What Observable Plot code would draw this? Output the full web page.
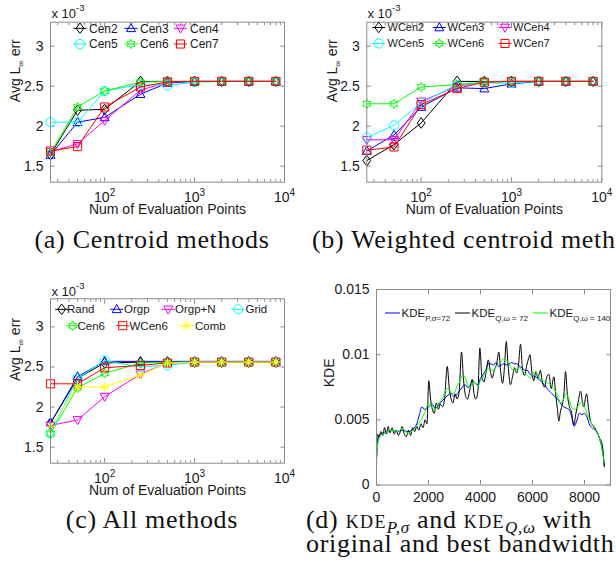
<!DOCTYPE html>
<html>
<head>
<meta charset="utf-8">
<script src="https://cdn.jsdelivr.net/npm/d3@7"></script>
<script src="https://cdn.jsdelivr.net/npm/@observablehq/plot@0.6"></script>
<style>
html, body { margin:0; padding:0; background:#fff; }
body { width:616px; height:564px; overflow:hidden; }
#fig { position:relative; width:616px; height:564px; overflow:hidden; }
.panel { position:absolute; }
.panel svg { overflow:visible; display:block; }
#overlay { position:absolute; left:0; top:0; overflow:hidden; pointer-events:none; }
</style>
</head>
<body>
<div id="fig"></div>
<script>
// ================= DATA =================
const evalPoints = [25, 50, 100, 250, 500, 1000, 2000, 4000, 8000];
// (a) centroid methods — Avg L∞ error, in units of 1e-3
const cen2 = [1.645, 2.20, 2.21, 2.56, 2.56, 2.56, 2.56, 2.56, 2.56];
const cen3 = [1.64, 2.05, 2.11, 2.40, 2.54, 2.56, 2.56, 2.56, 2.56];
const cen4 = [1.68, 1.78, 2.07, 2.45, 2.55, 2.56, 2.56, 2.56, 2.56];
const cen5 = [2.05, 2.05, 2.44, 2.52, 2.51, 2.55, 2.56, 2.56, 2.56];
const cen6 = [1.67, 2.24, 2.44, 2.55, 2.56, 2.56, 2.56, 2.56, 2.56];
const cen7 = [1.69, 1.745, 2.24, 2.49, 2.555, 2.56, 2.56, 2.56, 2.56];
// (b) weighted centroid methods
const wcen2 = [1.57, 1.77, 2.04, 2.56, 2.56, 2.56, 2.56, 2.56, 2.56];
const wcen3 = [1.69, 1.89, 2.24, 2.48, 2.47, 2.53, 2.56, 2.56, 2.56];
const wcen4 = [1.83, 1.83, 2.31, 2.50, 2.55, 2.56, 2.56, 2.56, 2.56];
const wcen5 = [1.86, 2.01, 2.29, 2.52, 2.54, 2.54, 2.56, 2.56, 2.56];
const wcen6 = [2.28, 2.28, 2.49, 2.52, 2.55, 2.56, 2.56, 2.56, 2.56];
const wcen7 = [1.70, 1.74, 2.27, 2.47, 2.55, 2.56, 2.56, 2.56, 2.56];
// (c) all methods
const randM  = [1.80, 2.36, 2.55, 2.56, 2.56, 2.56, 2.56, 2.56, 2.56];
const orgp   = [1.80, 2.38, 2.57, 2.57, 2.57, 2.57, 2.57, 2.57, 2.57];
const orgpN  = [1.77, 1.84, 2.13, 2.41, 2.55, 2.56, 2.56, 2.56, 2.56];
const gridM  = [1.67, 2.36, 2.58, 2.50, 2.52, 2.56, 2.56, 2.56, 2.56];
const cen6c  = [1.67, 2.24, 2.42, 2.55, 2.56, 2.56, 2.56, 2.56, 2.56];
const wcen6c = [2.29, 2.29, 2.49, 2.52, 2.55, 2.56, 2.56, 2.56, 2.56];
const comb   = [1.76, 2.25, 2.25, 2.40, 2.55, 2.56, 2.56, 2.56, 2.56];

const namesA = ["Cen2", "Cen3", "Cen4", "Cen5", "Cen6", "Cen7"];
const namesB = ["WCen2", "WCen3", "WCen4", "WCen5", "WCen6", "WCen7"];
const namesC = ["Rand", "Orgp", "Orgp+N", "Grid", "Cen6", "WCen6", "Comb"];

const xMajorTicks = [100, 1000, 10000];
const xMajorLabels = ["10^2", "10^3", "10^4"];
const xMinorTicks = [30,40,50,60,70,80,90,200,300,400,500,600,700,800,900,2000,3000,4000,5000,6000,7000,8000,9000];
const yErrTicks = [1.5, 2, 2.5, 3];
const yErrLabels = ["1.5", "2", "2.5", "3"];

// (d) KDE curves
const kdeP_x = [0,60,150,250,400,600,800,1000,1200,1400,1550,1650,1750,1850,1950,2050,2150,2250,2350,2450,2600,2750,2850,3000,3150,3300,3400,3500,3600,3700,3800,3900,4000,4100,4200,4300,4400,4500,4600,4700,4800,4900,5000,5100,5200,5300,5400,5500,5600,5700,5800,5900,6000,6100,6200,6300,6400,6500,6600,6700,6800,6900,7000,7100,7200,7300,7400,7500,7600,7700,7800,7900,8000,8100,8200,8300,8400,8500,8600,8700,8760];
const kdeP_y = [0.0020,0.0035,0.0039,0.0040,0.0041,0.0042,0.0041,0.0042,0.0041,0.0043,0.0047,0.0054,0.0060,0.0058,0.0059,0.0061,0.0062,0.0059,0.0060,0.0063,0.0066,0.0069,0.0070,0.0068,0.0071,0.0075,0.0077,0.0075,0.0076,0.0080,0.0078,0.0077,0.0082,0.0085,0.0088,0.0093,0.0093,0.0092,0.0094,0.0091,0.0092,0.0093,0.0092,0.0093,0.0094,0.0093,0.0093,0.0091,0.0090,0.0088,0.0088,0.0085,0.0084,0.0083,0.0082,0.0080,0.0078,0.0076,0.0073,0.0071,0.0069,0.0067,0.0065,0.0062,0.0060,0.0059,0.0058,0.0053,0.0045,0.0049,0.0055,0.0054,0.0055,0.0052,0.0046,0.0044,0.0042,0.0040,0.0034,0.0026,0.0015];

const kdeQ72_x = [0,40,100,170,240,310,380,450,520,600,680,760,840,920,990,1070,1150,1230,1310,1390,1470,1550,1630,1710,1790,1870,1940,2010,2080,2150,2220,2300,2380,2460,2540,2620,2720,2800,2870,2940,3020,3100,3180,3270,3350,3430,3500,3580,3680,3750,3820,3900,3975,4050,4130,4210,4300,4380,4450,4530,4620,4705,4780,4850,4920,4990,5060,5150,5230,5310,5390,5460,5540,5620,5700,5780,5850,5900,5980,6050,6130,6210,6300,6380,6460,6550,6630,6720,6820,6900,6960,7010,7080,7150,7210,7270,7340,7420,7500,7590,7670,7750,7850,7920,7975,8030,8080,8160,8230,8310,8400,8490,8580,8680,8760];
const kdeQ72_y = [0.0019,0.0039,0.0037,0.0041,0.0038,0.0044,0.0039,0.0045,0.0040,0.0044,0.0039,0.0042,0.0038,0.0041,0.0045,0.0039,0.0037,0.0042,0.0038,0.0044,0.0041,0.0045,0.0042,0.0047,0.0044,0.0050,0.0047,0.0080,0.0066,0.0058,0.0055,0.0063,0.0058,0.0062,0.0060,0.0066,0.0091,0.0074,0.0066,0.0063,0.0070,0.0066,0.0072,0.0102,0.0080,0.0068,0.0066,0.0072,0.0081,0.0070,0.0066,0.0072,0.0105,0.0084,0.0079,0.0086,0.0096,0.0087,0.0082,0.0088,0.0093,0.0102,0.0086,0.0078,0.0090,0.0110,0.0092,0.0077,0.0083,0.0090,0.0086,0.0092,0.0108,0.0088,0.0084,0.0092,0.0097,0.0100,0.0086,0.0080,0.0087,0.0082,0.0088,0.0079,0.0075,0.0083,0.0085,0.0074,0.0083,0.0068,0.0058,0.0049,0.0057,0.0062,0.0070,0.0087,0.0070,0.0060,0.0056,0.0046,0.0055,0.0063,0.0072,0.0064,0.0060,0.0066,0.0070,0.0058,0.0049,0.0046,0.0044,0.0040,0.0036,0.0031,0.0014];

const kdeQ140_x = [0,60,150,250,400,600,800,1000,1200,1400,1600,1800,1900,2000,2100,2200,2300,2400,2550,2700,2800,2900,3000,3100,3200,3300,3400,3500,3600,3700,3800,3900,4000,4100,4200,4300,4400,4500,4600,4700,4800,4900,5000,5100,5200,5300,5400,5500,5600,5700,5800,5900,6000,6100,6200,6300,6400,6500,6600,6700,6800,6900,7000,7100,7200,7300,7400,7500,7600,7700,7800,7900,8000,8100,8200,8300,8400,8500,8600,8700,8760];
const kdeQ140_y = [0.0021,0.0033,0.0037,0.0039,0.0041,0.0042,0.0041,0.0043,0.0040,0.0042,0.0047,0.0053,0.0058,0.0063,0.0062,0.0058,0.0059,0.0063,0.0067,0.0074,0.0073,0.0070,0.0071,0.0076,0.0079,0.0084,0.0083,0.0077,0.0075,0.0079,0.0078,0.0076,0.0080,0.0083,0.0087,0.0089,0.0088,0.0088,0.0091,0.0093,0.0095,0.0097,0.0096,0.0093,0.0089,0.0088,0.0089,0.0090,0.0088,0.0086,0.0084,0.0082,0.0084,0.0087,0.0084,0.0081,0.0080,0.0079,0.0078,0.0077,0.0074,0.0071,0.0066,0.0063,0.0066,0.0070,0.0066,0.0060,0.0058,0.0059,0.0062,0.0064,0.0060,0.0055,0.0050,0.0046,0.0043,0.0040,0.0034,0.0024,0.0017];

const kdeTicksX = [0, 2000, 4000, 6000, 8000];
const kdeTicksY = [0, 0.005, 0.01, 0.015];

// ================= STYLE =================
const C = {k:"#000000", b:"#0000ff", m:"#ff00ff", c:"#00ffff", g:"#00ff00", r:"#ff0000", y:"#ffff00"};
const axisColor = "#8a8a8a";
const textColor = "#1a1a1a";
const sansFont = "'Liberation Sans', Arial, Helvetica, sans-serif";
const serifFont = "'Liberation Serif', 'Times New Roman', serif";
const svgNS = "http://www.w3.org/2000/svg";

// ---- MATLAB-like marker symbols ----
function poly(pts) {
  return {draw(ctx, size) {
    const r = Math.sqrt(size / Math.PI);
    ctx.moveTo(pts[0][0] * r, pts[0][1] * r);
    for (let i = 1; i < pts.length; ++i) ctx.lineTo(pts[i][0] * r, pts[i][1] * r);
    ctx.closePath();
  }};
}
const symDiamond = poly([[0,-1.15],[0.85,0],[0,1.15],[-0.85,0]]);
const symTriUp = poly([[0,-1.05],[0.98,0.72],[-0.98,0.72]]);
const symTriDown = poly([[0,1.05],[0.98,-0.72],[-0.98,-0.72]]);
const symSquare = poly([[-0.88,-0.88],[0.88,-0.88],[0.88,0.88],[-0.88,0.88]]);
const symCircle = {draw(ctx, size) { const r = Math.sqrt(size / Math.PI); ctx.moveTo(r, 0); ctx.arc(0, 0, r, 0, 2 * Math.PI); }};
const symHexagram = poly(d3.range(12).map(i => {
  const a = -Math.PI / 2 + i * Math.PI / 6, rr = i % 2 ? 0.58 : 1.0;
  return [rr * Math.cos(a), rr * Math.sin(a)];
}));
const symAsterisk = {draw(ctx, size) {
  const r = Math.sqrt(size / Math.PI);
  for (let i = 0; i < 4; ++i) {
    const a = i * Math.PI / 4;
    ctx.moveTo(-r * Math.cos(a), -r * Math.sin(a));
    ctx.lineTo(r * Math.cos(a), r * Math.sin(a));
  }
}};
const markerR = 4.6;

const seriesA = [
  {name: namesA[0], values: cen2, color: C.k, sym: symDiamond},
  {name: namesA[1], values: cen3, color: C.b, sym: symTriUp},
  {name: namesA[2], values: cen4, color: C.m, sym: symTriDown},
  {name: namesA[3], values: cen5, color: C.c, sym: symCircle},
  {name: namesA[4], values: cen6, color: C.g, sym: symHexagram},
  {name: namesA[5], values: cen7, color: C.r, sym: symSquare}
];
const seriesB = [
  {name: namesB[0], values: wcen2, color: C.k, sym: symDiamond},
  {name: namesB[1], values: wcen3, color: C.b, sym: symTriUp},
  {name: namesB[2], values: wcen4, color: C.m, sym: symTriDown},
  {name: namesB[3], values: wcen5, color: C.c, sym: symCircle},
  {name: namesB[4], values: wcen6, color: C.g, sym: symHexagram},
  {name: namesB[5], values: wcen7, color: C.r, sym: symSquare}
];
const seriesC = [
  {name: namesC[0], values: randM, color: C.k, sym: symDiamond},
  {name: namesC[1], values: orgp, color: C.b, sym: symTriUp},
  {name: namesC[2], values: orgpN, color: C.m, sym: symTriDown},
  {name: namesC[3], values: gridM, color: C.c, sym: symCircle},
  {name: namesC[4], values: cen6c, color: C.g, sym: symHexagram},
  {name: namesC[5], values: wcen6c, color: C.r, sym: symSquare},
  {name: namesC[6], values: comb, color: C.y, sym: symAsterisk}
];

const fig = document.getElementById("fig");
function place(node, left, top) {
  const d = document.createElement("div");
  d.className = "panel";
  d.style.left = left + "px";
  d.style.top = top + "px";
  d.appendChild(node);
  fig.appendChild(d);
}

function fixTexts(svg) {
  svg.querySelectorAll("text").forEach(t => {
    const s = t.textContent;
    let m = /^10\^(\d)$/.exec(s);
    if (m) {
      t.textContent = "10";
      const ts = document.createElementNS(svgNS, "tspan");
      ts.setAttribute("dy", "-6");
      ts.setAttribute("font-size", "10");
      ts.textContent = m[1];
      t.appendChild(ts);
      return;
    }
    if (s.includes("∞")) {
      const [a, b] = s.split("∞");
      t.textContent = a;
      const sub = document.createElementNS(svgNS, "tspan");
      sub.setAttribute("dy", "4");
      sub.setAttribute("font-size", "9");
      sub.textContent = "∞";
      const rest = document.createElementNS(svgNS, "tspan");
      rest.setAttribute("dy", "-4");
      rest.textContent = b;
      t.appendChild(sub);
      t.appendChild(rest);
    }
  });
}

function inwardTicksX(values, size) {
  return [
    Plot.axisX(values, {anchor: "bottom", label: null, tickSize: -size, tickFormat: () => "", stroke: axisColor}),
    Plot.axisX(values, {anchor: "top", label: null, tickSize: -size, tickFormat: () => "", stroke: axisColor})
  ];
}
function inwardTicksY(values, size) {
  return [
    Plot.axisY(values, {anchor: "left", label: null, tickSize: -size, tickFormat: () => "", stroke: axisColor}),
    Plot.axisY(values, {anchor: "right", label: null, tickSize: -size, tickFormat: () => "", stroke: axisColor})
  ];
}

function errPanel(cfg, series) {
  const marks = [
    ...inwardTicksX(xMinorTicks, 2.5),
    ...inwardTicksX(xMajorTicks, 4.5),
    ...inwardTicksY(yErrTicks, 4.5),
    Plot.axisX(xMajorTicks, {anchor: "bottom", label: null, tickSize: 0, tickPadding: 9.7, color: textColor,
      tickFormat: d => xMajorLabels[xMajorTicks.indexOf(d)], fontSize: 14}),
    Plot.axisY(yErrTicks, {anchor: "left", label: null, tickSize: 0, tickPadding: 7, color: textColor,
      tickFormat: d => yErrLabels[yErrTicks.indexOf(d)], fontSize: 14}),
    Plot.text(["Num of Evaluation Points"], {frameAnchor: "bottom", dy: 31.5, text: d => d, fontSize: 14, fill: textColor}),
    Plot.text(["Avg L∞ err"], {frameAnchor: "left", dx: -34.5, rotate: -90, text: d => d, fontSize: 14, fill: textColor})
  ];
  for (const s of series) {
    const rows = evalPoints.map((x, i) => ({x, y: s.values[i]}));
    marks.push(Plot.line(rows, {x: "x", y: "y", stroke: s.color, strokeWidth: 1}));
    marks.push(Plot.dot(rows, {x: "x", y: "y", stroke: s.color, fill: "none", symbol: s.sym, r: markerR, strokeWidth: 1}));
  }
  marks.push(Plot.frame({stroke: axisColor, strokeWidth: 1}));
  const svg = Plot.plot({
    width: cfg.width, height: cfg.height,
    marginLeft: cfg.ml, marginRight: cfg.mr, marginTop: cfg.mt, marginBottom: cfg.mb,
    x: {type: "log", domain: [25, 10000], axis: null},
    y: {domain: cfg.yDomain, axis: null},
    style: {fontFamily: sansFont, fontSize: "14px", color: textColor, background: "transparent", overflow: "visible"},
    marks
  });
  fixTexts(svg);
  place(svg, cfg.left, cfg.top);
}

errPanel({left: 0, top: 0, width: 300, height: 220, ml: 50, mr: 16, mt: 21.7, mb: 38.3, yDomain: [1.3, 3.3]}, seriesA);
errPanel({left: 306, top: 0, width: 310, height: 220, ml: 60.3, mr: 14.7, mt: 21.7, mb: 38.3, yDomain: [1.3, 3.3]}, seriesB);
errPanel({left: 0, top: 280, width: 300, height: 220, ml: 50, mr: 16, mt: 18.3, mb: 37.3, yDomain: [1.3, 3.35]}, seriesC);

// (d) KDE panel
(function() {
  const mk = (xs, ys) => xs.map((x, i) => ({x, y: ys[i]}));
  const marks = [
    ...inwardTicksX(kdeTicksX, 4.5),
    ...inwardTicksY(kdeTicksY, 4.5),
    Plot.axisX(kdeTicksX, {anchor: "bottom", label: null, tickSize: 0, tickPadding: 7.4, color: textColor, tickFormat: d => String(d), fontSize: 14}),
    Plot.axisY(kdeTicksY, {anchor: "left", label: null, tickSize: 0, tickPadding: 7, color: textColor, tickFormat: d => String(d), fontSize: 14}),
    Plot.text(["KDE"], {frameAnchor: "left", dx: -46.5, rotate: -90, text: d => d, fontSize: 14, fill: textColor}),
    Plot.line(mk(kdeP_x, kdeP_y), {x: "x", y: "y", stroke: C.b, strokeWidth: 1, curve: "monotone-x"}),
    Plot.line(mk(kdeQ72_x, kdeQ72_y), {x: "x", y: "y", stroke: C.k, strokeWidth: 1, curve: "monotone-x"}),
    Plot.line(mk(kdeQ140_x, kdeQ140_y), {x: "x", y: "y", stroke: C.g, strokeWidth: 1, curve: "monotone-x"}),
    Plot.frame({stroke: axisColor, strokeWidth: 1})
  ];
  const svg = Plot.plot({
    width: 310, height: 220, marginLeft: 70, marginRight: 6, marginTop: 9, marginBottom: 15.5,
    x: {domain: [0, 9000], axis: null},
    y: {domain: [0, 0.015], axis: null},
    style: {fontFamily: sansFont, fontSize: "14px", color: textColor, background: "transparent", overflow: "visible"},
    marks
  });
  place(svg, 306, 280);
})();

// ================= OVERLAY: legends, exponent labels, captions =================
const overlay = d3.select(fig).append("svg").attr("id", "overlay")
  .attr("width", 616).attr("height", 564);

function legend(series, rows, fontSize) {
  const g = overlay.append("g").attr("font-family", sansFont).attr("font-size", fontSize).attr("fill", textColor);
  series.forEach((s, i) => {
    const p = rows[i];
    g.append("line").attr("x1", p.mx - 6.5).attr("x2", p.mx + 6.5).attr("y1", p.my).attr("y2", p.my)
      .attr("stroke", s.color).attr("stroke-width", 1);
    g.append("path").attr("transform", `translate(${p.mx},${p.my})`)
      .attr("d", d3.symbol(s.sym, markerR * markerR * Math.PI)())
      .attr("fill", "none").attr("stroke", s.color).attr("stroke-width", 1);
    g.append("text").attr("x", p.tx).attr("y", p.my).attr("dy", "0.35em").text(s.name);
  });
}
legend(seriesA, [
  {mx: 80, my: 28.3, tx: 89}, {mx: 131, my: 28.3, tx: 140}, {mx: 180.5, my: 28.3, tx: 190},
  {mx: 80, my: 44, tx: 89}, {mx: 131, my: 44, tx: 140}, {mx: 180.5, my: 44, tx: 190}
], 12);
legend(seriesB, [
  {mx: 378.7, my: 27.5, tx: 387.5}, {mx: 439.3, my: 27.5, tx: 447.5}, {mx: 505, my: 27.5, tx: 513},
  {mx: 378.7, my: 43.5, tx: 387.5}, {mx: 439.3, my: 43.5, tx: 447.5}, {mx: 505, my: 43.5, tx: 513}
], 11);
legend(seriesC, [
  {mx: 61.7, my: 309.3, tx: 67}, {mx: 116.7, my: 309.3, tx: 124}, {mx: 168.3, my: 309.3, tx: 175}, {mx: 238.3, my: 309.3, tx: 245.5},
  {mx: 72.7, my: 325.7, tx: 77.5}, {mx: 122.7, my: 325.7, tx: 129.5}, {mx: 186.7, my: 325.7, tx: 195}
], 11.5);

// (d) legend (lines only)
(function() {
  const g = overlay.append("g").attr("font-family", sansFont).attr("fill", textColor);
  const items = [
    {color: C.b, x1: 385, x2: 400, tx: 401.5, sub: "P,σ=72"},
    {color: C.k, x1: 455, x2: 470, tx: 471.5, sub: "Q,ω = 72"},
    {color: C.g, x1: 532.7, x2: 548, tx: 549.5, sub: "Q,ω = 140"}
  ];
  const y = 313;
  for (const it of items) {
    g.append("line").attr("x1", it.x1).attr("x2", it.x2).attr("y1", y).attr("y2", y).attr("stroke", it.color).attr("stroke-width", 1);
    const t = g.append("text").attr("x", it.tx).attr("y", y + 3.5).attr("font-size", 11.5);
    t.append("tspan").text("KDE");
    t.append("tspan").attr("dy", 4).attr("font-size", 8).text(it.sub);
  }
})();

// exponent labels "x 10^-3"
function expLabel(x, y) {
  const t = overlay.append("text").attr("x", x).attr("y", y)
    .attr("font-family", sansFont).attr("font-size", 13).attr("fill", textColor);
  t.append("tspan").text("x 10");
  t.append("tspan").attr("dy", -7).attr("font-size", 9.5).text("-3");
}
expLabel(51.5, 18.3);
expLabel(367.5, 18.3);
expLabel(51.5, 295.5);

// captions
const cap = overlay.append("g").attr("font-family", serifFont).attr("font-size", 26)
  .attr("fill", "#111").attr("letter-spacing", "0.7px");
cap.append("text").attr("x", 152).attr("y", 247.5).attr("text-anchor", "middle").text("(a) Centroid methods");
cap.append("text").attr("x", 312).attr("y", 247.5).text("(b) Weighted centroid methods");
cap.append("text").attr("x", 152).attr("y", 527.7).attr("text-anchor", "middle").text("(c) All methods");
(function() {
  const t = cap.append("text").attr("x", 306).attr("y", 527.7);
  t.append("tspan").text("(d) ");
  t.append("tspan").attr("font-size", 18).attr("letter-spacing", "1.4px").text("KDE");
  t.append("tspan").attr("dy", 5).attr("font-size", 17).attr("font-style", "italic").text("P,σ");
  t.append("tspan").attr("dy", -5).text(" and ");
  t.append("tspan").attr("font-size", 18).attr("letter-spacing", "1.4px").text("KDE");
  t.append("tspan").attr("dy", 5).attr("font-size", 17).attr("font-style", "italic").text("Q,ω");
  t.append("tspan").attr("dy", -5).text(" with");
  cap.append("text").attr("x", 306).attr("y", 551.7).text("original and best bandwidth");
})();
</script>
</body>
</html>
